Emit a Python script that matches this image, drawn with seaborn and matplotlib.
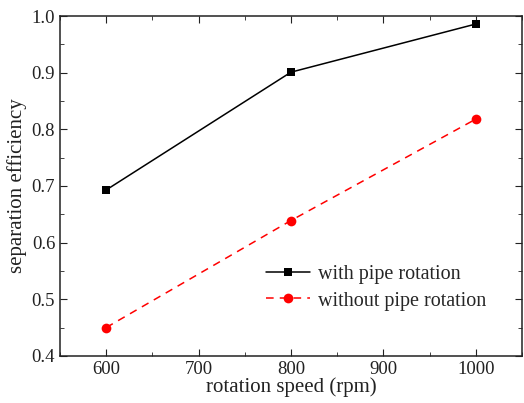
import matplotlib
matplotlib.use("Agg")
import matplotlib.pyplot as plt
from matplotlib.ticker import MultipleLocator
import seaborn as sns
import pandas as pd

# data
speed = [600, 800, 1000]
with_rotation = [0.693, 0.901, 0.986]
without_rotation = [0.450, 0.639, 0.818]

sns.set_style("ticks")
plt.rcParams['font.family'] = ['Liberation Serif', 'DejaVu Serif']
plt.rcParams['xtick.direction'] = 'in'
plt.rcParams['ytick.direction'] = 'in'

df = pd.DataFrame({
    'speed': speed * 2,
    'eff': with_rotation + without_rotation,
    'case': ['with pipe rotation'] * 3 + ['without pipe rotation'] * 3,
})

fig, ax = plt.subplots(figsize=(5.24, 4.03), dpi=100)
fig.subplots_adjust(left=0.1145, right=0.996, bottom=0.117, top=0.960)

sns.lineplot(data=df[df['case'] == 'with pipe rotation'], x='speed', y='eff',
             color='black', marker='s', markersize=6, linewidth=1.1,
             markeredgewidth=0, label='with pipe rotation', ax=ax)
sns.lineplot(data=df[df['case'] == 'without pipe rotation'], x='speed', y='eff',
             color='#ff0000', marker='o', markersize=7, linewidth=1.1,
             markeredgewidth=0, linestyle=(0, (5, 4)),
             label='without pipe rotation', ax=ax)

ax.set_xlim(550, 1050)
ax.set_ylim(0.4, 1.0)
ax.xaxis.set_major_locator(MultipleLocator(100))
ax.xaxis.set_minor_locator(MultipleLocator(50))
ax.yaxis.set_major_locator(MultipleLocator(0.1))
ax.yaxis.set_minor_locator(MultipleLocator(0.05))
ax.yaxis.set_major_formatter(matplotlib.ticker.FormatStrFormatter('%.1f'))
ax.tick_params(which='both', top=True, right=True, colors='#222222', labelcolor='#222222')
ax.tick_params(which='major', length=5, labelsize=13.5)
ax.tick_params(which='minor', length=3)
for s in ax.spines.values():
    s.set_linewidth(1.1)
    s.set_color('#222222')

ax.set_xlabel('rotation speed (rpm)', fontsize=15, labelpad=0, color='#222222')
ax.set_ylabel('separation efficiency', fontsize=15, labelpad=3, color='#222222')

ax.legend(loc='lower right', bbox_to_anchor=(0.963, 0.08), frameon=False,
          fontsize=14.5, handlelength=2.2, handletextpad=0.4, labelspacing=0.35)

fig.savefig('out.png', dpi=100)
